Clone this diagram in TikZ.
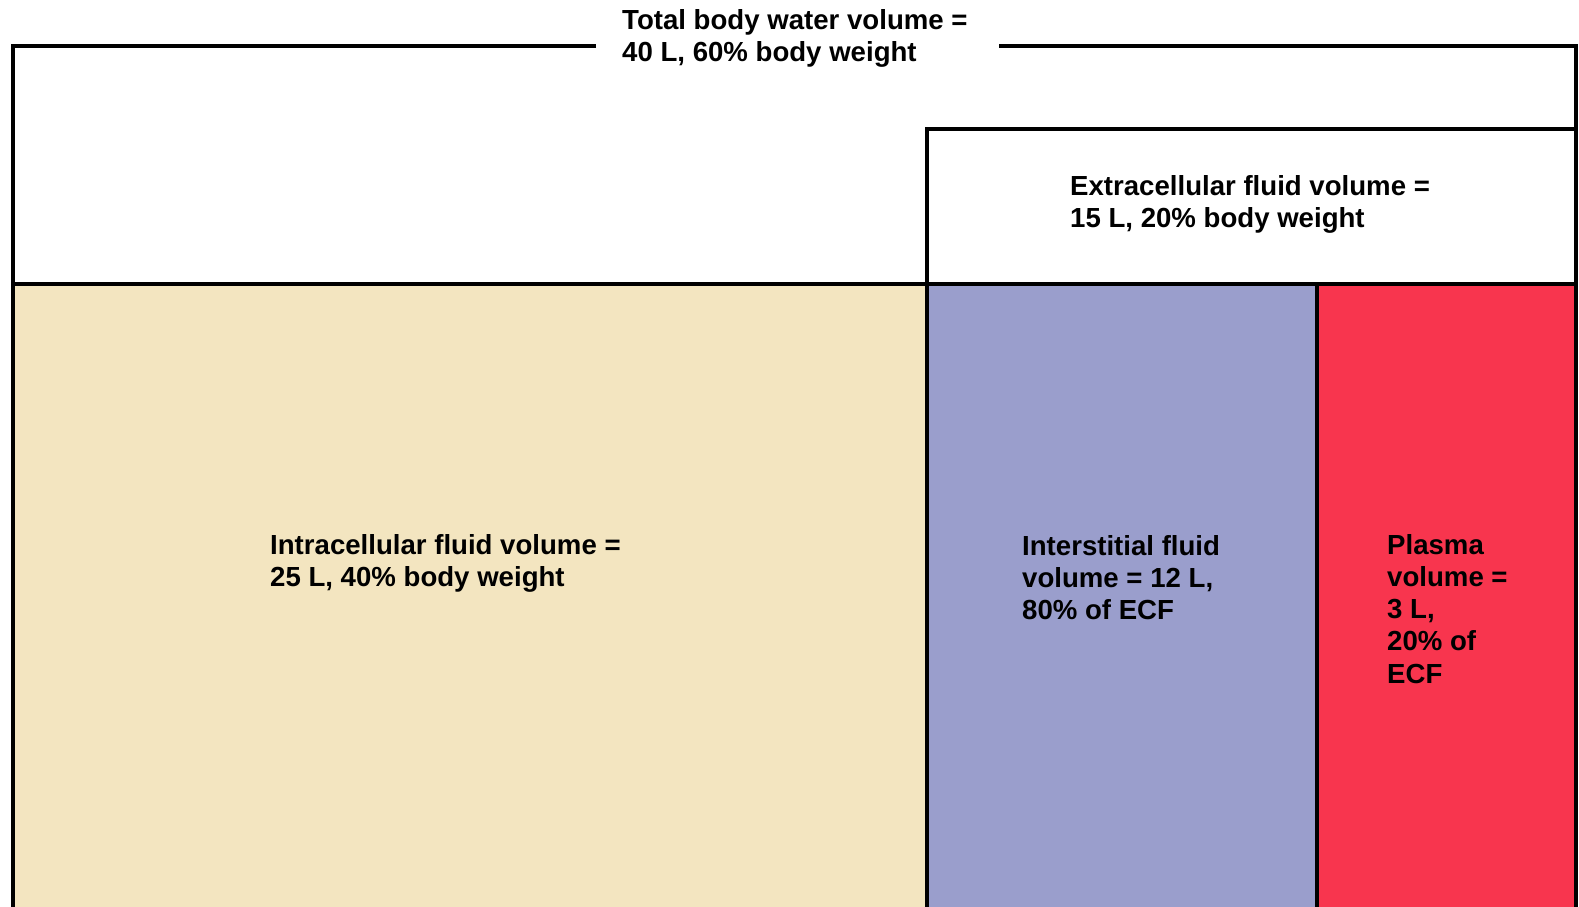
\documentclass[tikz,border=0pt]{standalone}
\usepackage{fontspec}
\setmainfont{Liberation Sans}
\usepackage{xcolor}

\definecolor{icfcol}{RGB}{243,229,192}
\definecolor{isfcol}{RGB}{154,158,204}
\definecolor{plasmacol}{RGB}{248,53,78}

\begin{document}
\begin{tikzpicture}[x=1pt, y=-1pt, every node/.style={font=\fontsize{27.6}{32.2}\selectfont\bfseries}]
\tikzstyle{lbl}=[anchor=north west, inner sep=0pt, align=left]
\tikzstyle{wall}=[line width=3.5pt]
\useasboundingbox (0,0) rectangle (1579,907);
% compartments
\fill[icfcol] (13,284) rectangle (927,910);
\fill[isfcol] (927,284) rectangle (1317,910);
\fill[plasmacol] (1317,284) rectangle (1576,910);
% outlines
\draw[wall] (596,46) -- (13,46) -- (13,910);
\draw[wall] (999,46) -- (1576,46) -- (1576,910);
\draw[wall] (13,284) -- (1576,284);
\draw[wall] (927,910) -- (927,129) -- (1576,129);
\draw[wall] (1317,284) -- (1317,910);
% labels
\node[lbl] (tbw) at (622,9) {Total body water volume =\\40 L, 60\% body weight};
\node[lbl] (ecf) at (1070,175) {Extracellular fluid volume =\\15 L, 20\% body weight};
\node[lbl] (icf) at (270,534) {Intracellular fluid volume =\\25 L, 40\% body weight};
\node[lbl] (isf) at (1022,535) {Interstitial fluid\\volume = 12 L,\\80\% of ECF};
\node[lbl] (plasma) at (1387,534) {Plasma\\volume =\\3 L,\\20\% of\\ECF};
\end{tikzpicture}
\end{document}
